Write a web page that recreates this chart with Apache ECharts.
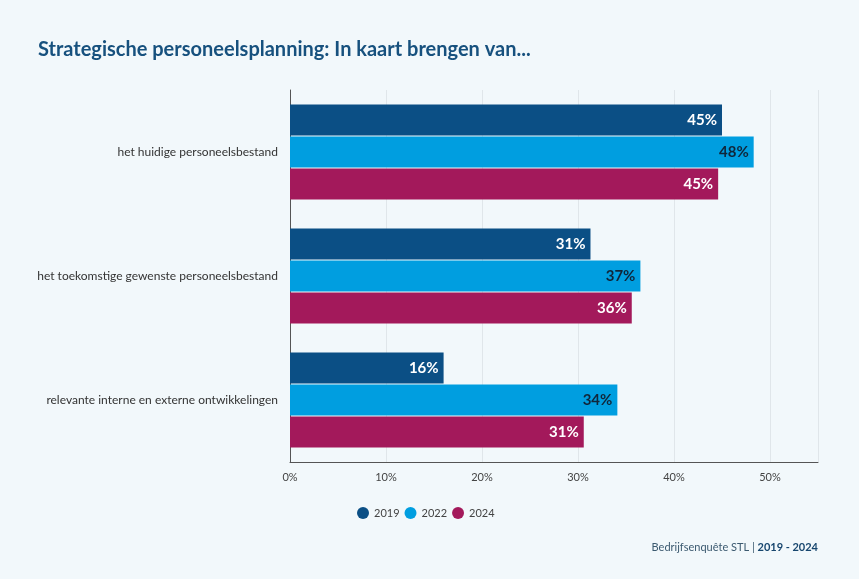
<!DOCTYPE html>
<html>
<head>
<meta charset="utf-8">
<script src="https://cdn.jsdelivr.net/npm/echarts@6/dist/echarts.min.js"></script>
<style>
  html, body { margin: 0; padding: 0; background: #f2f8fb; }
  #chart { width: 859px; height: 579px; }
</style>
</head>
<body>
<div id="chart"></div>
<script>
// categorieen (van boven naar beneden)
const categories = [
  "het huidige personeelsbestand",
  "het toekomstige gewenste personeelsbestand",
  "relevante interne en externe ontwikkelingen",
];
const years = ["2019", "2022", "2024"];
const values2019 = [45.0, 31.3, 16.0];
const values2022 = [48.3, 36.5, 34.1];
const values2024 = [44.6, 35.6, 30.6];
const colors = ["#0b4f85", "#009ee0", "#a3195b"];
const labelColors = ["#ffffff", "#10263a", "#ffffff"];

const font = "'Source Sans Pro', Lato, 'Noto Sans', sans-serif";

const series = [values2019, values2022, values2024].map((vals, i) => ({
  name: years[i],
  type: "bar",
  data: vals,
  barWidth: 31,
  barGap: "3%",
  itemStyle: { color: colors[i] },
  label: {
    show: true,
    position: "insideRight",
    distance: 5,
    formatter: (p) => Math.round(p.value) + "%",
    color: labelColors[i],
    fontWeight: "bold",
    fontSize: 15,
    fontFamily: font,
  },
}));

const chart = echarts.init(document.getElementById("chart"));
chart.setOption({
  backgroundColor: "#f2f8fb",
  textStyle: { fontFamily: font },
  title: {
    text: "Strategische personeelsplanning: In kaart brengen van...",
    left: 33,
    top: 35,
    textStyle: { color: "#17517e", fontSize: 20, fontWeight: "bold", fontFamily: font },
  },
  grid: { left: 290, right: 41, top: 90, bottom: 117 },
  legend: {
    data: years,
    left: 352,
    top: 502,
    icon: "circle",
    itemWidth: 12,
    itemHeight: 12,
    itemGap: 5,
    textStyle: { color: "#444", fontSize: 11, fontFamily: font },
  },
  xAxis: {
    type: "value",
    min: 0,
    max: 55,
    interval: 10,
    axisLine: { show: true, lineStyle: { color: "#555", width: 1 } },
    axisTick: { show: false },
    splitLine: { lineStyle: { color: "#e0e6ea" } },
    axisLabel: {
      formatter: (v) => (v % 10 === 0 ? v + "%" : ""),
      color: "#444",
      fontSize: 11,
      margin: 10,
      fontFamily: font,
    },
  },
  yAxis: {
    type: "category",
    inverse: true,
    data: categories,
    axisLine: { show: true, lineStyle: { color: "#555", width: 1 } },
    axisTick: { show: false },
    axisLabel: { color: "#333", fontSize: 12, margin: 12, fontFamily: font },
  },
  graphic: [
    {
      type: "text",
      right: 41,
      top: 542,
      style: {
        text: "{a|Bedrijfsenquête STL | }{b|2019 - 2024}",
        rich: {
          a: { fill: "#3c5a70", fontSize: 11, fontFamily: font },
          b: { fill: "#17466e", fontSize: 11, fontWeight: "bold", fontFamily: font },
        },
      },
    },
  ],
  series,
});
</script>
</body>
</html>
